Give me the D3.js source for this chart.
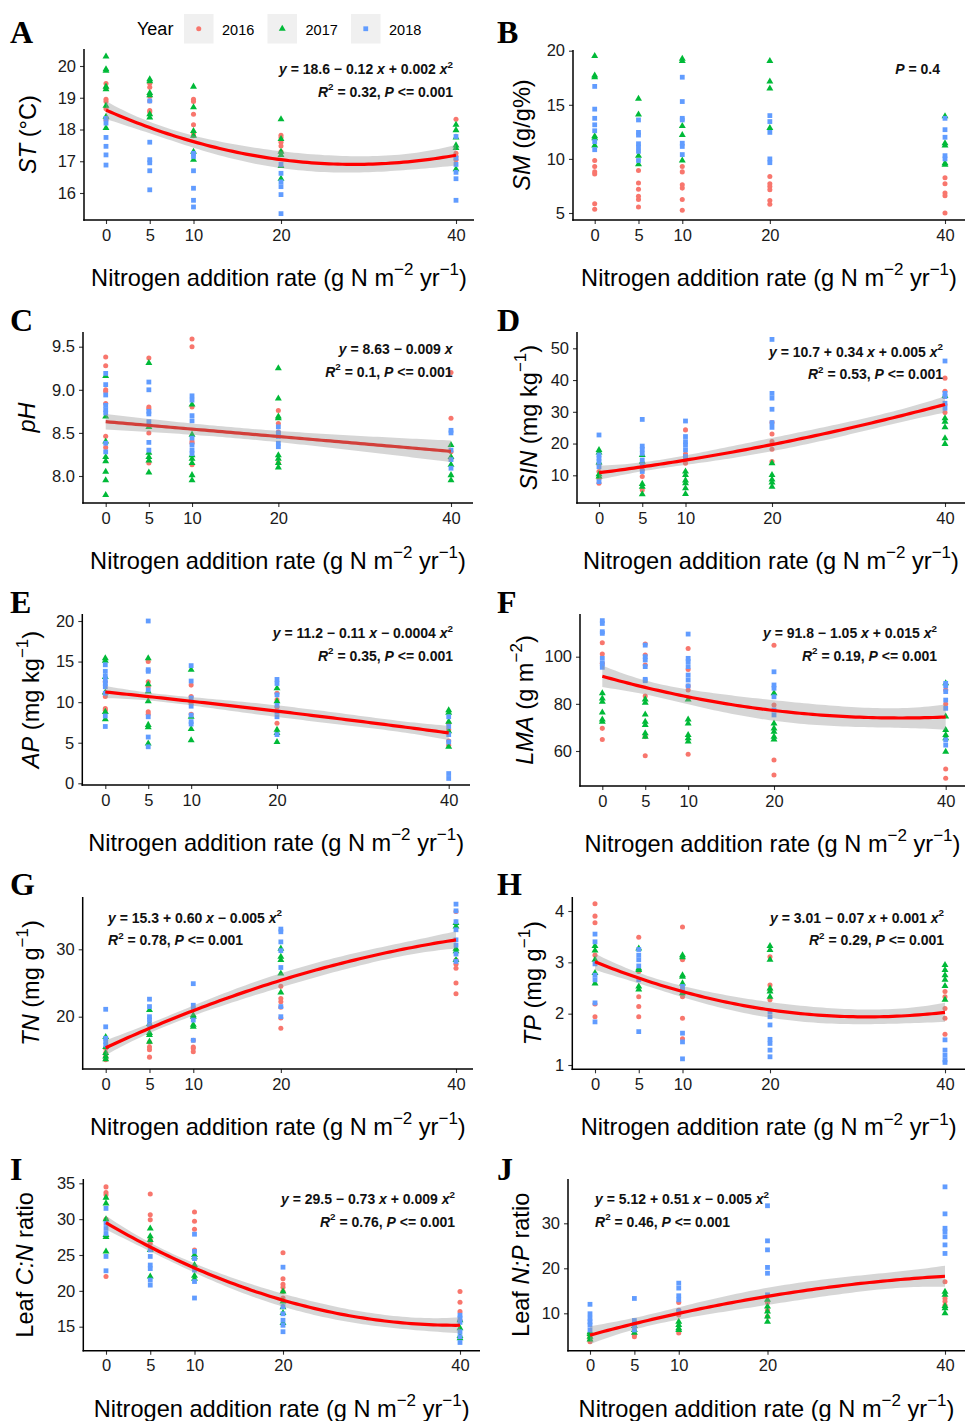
<!DOCTYPE html>
<html><head><meta charset="utf-8">
<script src="https://cdn.jsdelivr.net/npm/d3@7"></script>
<style>body{margin:0;background:#fff} svg{display:block}</style>
</head><body>
<svg id="chart" width="965" height="1421"></svg>
<script>
const nLevels = [0, 5, 10, 20, 40];
const years = ["2016", "2017", "2018"];
const yearColors = ["#F8766D", "#00BA38", "#619CFF"];
const yearShapes = [d3.symbolCircle, d3.symbolTriangle, d3.symbolSquare];

// A: soil temperature
const stY2016 = [[19.45,19.3,18.95,18.88,18.65,18.3],[19.45,19.33,19.05,18.9,18.6,18.55],[18.95,18.88,18.48,18.15,17.9,17.8],[17.82,17.75,17.6,17.48,17.3],[18.32,17.25,17.15,17.05]];
const stY2017 = [[20.3,19.9,19.85,19.35,19.27,18.75,18.4,18.05],[19.58,19.52,19.15,19.08,18.48,18.38],[19.35,18.7,17.95,17.8,17.3,17.05],[18.32,17.7,17.3,17.2,16.85,16.45],[18.15,17.98,17.75,17.5,17.42,16.75]];
const stY2018 = [[18.35,18.2,17.75,17.47,17.2,16.88],[18.9,17.6,17.05,16.95,16.7,16.1],[17.25,17.15,16.7,16.15,15.77,15.56],[16.9,16.62,16.35,16.2,15.95,15.35],[17.78,17.1,16.9,16.65,16.45,15.77]];
// B: soil moisture
const smY2016 = [[9.85,9.3,8.8,8.6,5.85,5.35],[8.93,7.77,7.2,6.55,6.25,5.55],[9.3,8.8,7.6,7.3,6.25,5.25],[8.38,7.7,7.45,7.15,6.15,5.8],[8.25,7.7,6.85,6.6,5.0]];
const smY2017 = [[19.5,17.7,17.55,12.1,11.9,11.25],[15.55,14.1,10.3,9.5],[19.25,19.05,13.05,12.2,9.85],[19.05,17.15,16.5,12.85],[13.95,11.45,11.25,9.6,9.45]];
const smY2018 = [[16.7,14.6,13.75,13.15,12.6,11.6,10.85],[13.6,12.45,12.2,11.4,11.1,10.7,9.85],[17.55,15.3,13.75,13.6,11.45,11.15,10.4],[14.0,13.45,12.45,10.0,9.65],[13.75,12.7,12.0,10.3,10.0]];
// C: pH
const phY2016 = [[9.38,9.28,9.0,8.98,8.84,8.46,8.33],[9.37,8.8,8.78,8.5,8.15],[9.59,9.5,8.8,8.4,8.38,8.13],[8.76,8.61,8.51,8.15],[9.2,8.67,8.28,8.2]];
const phY2017 = [[9.16,8.69,8.4,8.22,8.17,8.05,7.95,7.78],[9.31,8.57,8.27,8.22,8.18,8.04],[8.83,8.48,8.24,8.2,8.15,8.01,7.95],[9.25,8.9,8.69,8.67,8.24,8.2,8.15,8.1],[8.36,8.22,8.13,8.01,7.95]];
const phY2018 = [[9.19,9.06,8.94,8.82,8.77,8.73,8.38,8.28],[9.09,9.0,8.75,8.72,8.63,8.39,8.3],[8.93,8.88,8.7,8.64,8.44,8.36,8.3,8.26],[8.57,8.5,8.46,8.38,8.34],[8.53,8.5,8.3,8.19,8.09]];
// D: soil inorganic N
const sinY2016 = [[13.5,11.2,9.0,7.5],[11.7,9.6,5.4],[24.3,16.7,15.9,13.8],[26.6,23.0,20.6,18.2,14.3],[40.6,36.5,32.2,29.8]];
const sinY2017 = [[18.0,17.2,14.0,10.3,9.6],[16.4,14.3,7.3,6.4,4.0],[11.2,10.1,8.4,7.5,5.9,4.1],[13.8,10.1,8.7,7.7,6.4],[35.0,28.0,26.9,25.1,21.7,19.9]];
const sinY2018 = [[22.7,16.4,15.4,14.3,12.7,8.0],[27.6,19.2,18.2,16.9,14.8,13.3,11.2],[27.1,22.2,20.6,19.5,18.0,15.9],[52.8,35.8,34.3,30.8,26.6,25.1],[46.0,35.8,34.8,32.7,31.1]];
// E: available P
const apY2016 = [[12.5,11.1,10.7,9.2,9.0],[15.0,12.5,11.9,8.8,8.5],[12.1,10.7,9.8,8.5],[11.1,10.3,9.4,7.4],[7.4,6.6,5.2,4.7]];
const apY2017 = [[15.4,15.1,13.1,11.2,8.8,7.9],[15.4,12.2,11.3,10.1,7.2,6.9,4.9],[14.0,10.2,8.2,6.7,5.3],[11.7,10.1,6.6,6.2,5.1],[9.0,8.7,7.6,6.4,4.5]];
const apY2018 = [[14.6,13.8,13.2,12.7,12.3,11.9,11.1,8.3,7.0],[20.0,14.0,13.8,11.5,8.2,5.7,4.5],[14.5,12.6,10.5,9.5,8.4,7.6,7.3],[12.8,12.3,10.9,9.6,8.8,8.2,6.0],[8.2,7.0,6.0,5.1,1.2,0.6]];
// F: leaf mass per area
const lmaY2016 = [[105.9,101.1,97.2,69.6,64.9],[105.4,100.7,96.5,83.3,66.1,58.0],[103.5,94.6,87.6,85.9,58.6],[104.9,79.5,56.2,49.8],[85.9,79.9,52.4,48.4]];
const lmaY2017 = [[84.5,82.3,80.9,76.3,73.4,72.4],[81.9,80.5,75.5,72.4,71.0,67.5,66.1],[81.9,73.4,71.7,66.8,65.4,64.0],[84.5,71.7,69.6,68.2,66.1,64.9],[88.7,74.6,68.9,66.8,65.4,59.7]];
const lmaY2018 = [[115.3,114.1,110.6,109.9,99.3,97.2,95.5],[104.9,100.0,98.6,95.8,90.4,89.8],[109.6,99.3,97.9,95.8,92.2,90.1,87.6],[93.6,88.0,86.6,83.0,77.4,75.3],[88.7,87.6,85.2,81.6,78.1,64.7,62.5]];
// G: leaf total N
const tnY2016 = [[15.3,14.6,14.1,13.6],[16.2,15.5,15.1,14.0],[16.5,15.5,15.3,14.8],[24.5,22.7,22.2,21.4,19.8,18.3],[35.6,28.4,27.8,27.2,25.0,23.4]];
const tnY2017 = [[17.0,15.5,14.6,14.1,13.7],[21.0,18.9,17.6,17.3,16.3],[20.2,20.0,18.8,18.5],[30.1,28.9,28.4,26.4,23.6],[33.9,33.4,30.1,29.7,28.4]];
const tnY2018 = [[21.1,18.5,16.8,16.3,15.8],[22.6,21.5,20.0,19.5,18.8],[24.9,21.7,21.2,19.5,16.5],[33.0,32.6,31.1,29.8,27.3,21.5,20.0],[36.7,35.7,34.1,32.9,31.4,30.6,29.3,28.2]];
// H: leaf total P
const tpY2016 = [[4.14,3.9,3.77,3.14,2.19,1.94],[3.49,2.82,2.33,2.14,1.94],[3.69,3.05,2.33,1.91,1.51],[3.11,2.56,2.46,2.27],[2.43,2.33,2.1,1.91,1.6]];
const tpY2017 = [[3.32,3.23,3.05,2.79,2.59],[3.27,2.88,2.85,2.53,2.47],[3.14,3.1,2.75,2.72,2.59,2.4],[3.32,3.24,3.05,2.49,2.43,2.33],[2.95,2.85,2.75,2.66,2.54,2.27]];
const tpY2018 = [[3.55,3.4,2.97,2.75,2.66,2.21,1.84],[3.25,3.14,3.05,2.93,2.66,1.65],[2.53,2.45,1.62,1.45,1.12],[2.04,1.94,1.78,1.5,1.42,1.29,1.16],[1.49,1.29,1.19,1.1,1.05]];
// I: leaf C:N
const cnY2016 = [[34.5,33.7,33.4,30.0,22.0],[33.5,30.6,29.9,27.1,26.6],[31.0,29.7,28.6,25.7],[25.3,21.7,20.9,20.5,19.9,19.0],[19.9,18.4,17.1,15.9]];
const cnY2017 = [[33.0,32.2,30.0,27.8,27.5,25.5],[28.7,27.6,27.1,25.7,22.0],[25.0,24.7,23.6,22.1,21.7],[19.9,18.5,17.7,16.9,15.5],[15.9,14.8,13.7,13.4]];
const cnY2018 = [[31.5,29.4,28.7,28.0,24.8,22.8],[25.7,24.8,23.6,23.1,21.5,20.8],[27.9,25.5,24.5,22.9,21.3,19.0],[23.3,17.8,16.8,15.9,15.2,14.3],[16.6,16.2,15.6,14.3,13.6,12.8]];
// J: leaf N:P
const npY2016 = [[5.5,4.8,4.2,3.7],[6.0,5.2,4.8],[12.4,10.7,9.6,5.6],[12.4,10.7,9.3],[17.0,13.3,12.6,11.8]];
const npY2017 = [[5.8,5.4,4.8,4.2],[7.2,6.3,5.7],[8.1,7.4,6.7,6.3],[13.0,11.5,10.4,9.3,8.1],[14.8,14.1,11.6,11.1,10.0]];
const npY2018 = [[12.0,9.9,8.9,8.1,7.4,6.3],[13.3,8.4,7.8,7.2,6.3],[16.7,15.6,13.9,13.0,10.5],[33.9,26.1,24.1,20.2,18.9,14.1],[38.1,32.1,28.9,28.1,27.0,25.2,23.3]];

// fitted polynomial coefficients [a, b, c] and CI half-width at x = 0
const fitA = [18.61, -0.1205, 0.002125], bandA = 0.28;
const fitC = [8.63, -0.0086], bandC = 0.09;
const fitD = [10.8, 0.35, 0.0047], bandD = 2.2;
const fitE = [11.25, -0.11, -0.0004], bandE = 0.75;
const fitF = [91.7, -1.02, 0.0147], bandF = 4.6;
const fitG = [15.4, 0.60, -0.005], bandG = 1.1;
const fitH = [3.01, -0.069, 0.00111], bandH = 0.16;
const fitI = [29.5, -0.7225, 0.009125], bandI = 0.95;
const fitJ = [5.15, 0.535, -0.0052], bandJ = 2.0;

// tick values
const ticksA = [16, 17, 18, 19, 20];
const ticksB = [5, 10, 15, 20];
const ticksC = [8.0, 8.5, 9.0, 9.5];
const ticksD = [10, 20, 30, 40, 50];
const ticksE = [0, 5, 10, 15, 20];
const ticksF = [60, 80, 100];
const ticksG = [20, 30];
const ticksH = [1, 2, 3, 4];
const ticksI = [15, 20, 25, 30, 35];
const ticksJ = [10, 20, 30];

// text
const eqA = [[["y","i"],[" = 18.6 − 0.12 ",""],["x","i"],[" + 0.002 ",""],["x","i"],["2","s"]],[["R","i"],["2","s"],[" = 0.32, ",""],["P","i"],[" <= 0.001",""]]];
const eqB = [[["P","i"],[" = 0.4",""]]];
const eqC = [[["y","i"],[" = 8.63 − 0.009 ",""],["x","i"]],[["R","i"],["2","s"],[" = 0.1, ",""],["P","i"],[" <= 0.001",""]]];
const eqD = [[["y","i"],[" = 10.7 + 0.34 ",""],["x","i"],[" + 0.005 ",""],["x","i"],["2","s"]],[["R","i"],["2","s"],[" = 0.53, ",""],["P","i"],[" <= 0.001",""]]];
const eqE = [[["y","i"],[" = 11.2 − 0.11 ",""],["x","i"],[" − 0.0004 ",""],["x","i"],["2","s"]],[["R","i"],["2","s"],[" = 0.35, ",""],["P","i"],[" <= 0.001",""]]];
const eqF = [[["y","i"],[" = 91.8 − 1.05 ",""],["x","i"],[" + 0.015 ",""],["x","i"],["2","s"]],[["R","i"],["2","s"],[" = 0.19, ",""],["P","i"],[" <= 0.001",""]]];
const eqG = [[["y","i"],[" = 15.3 + 0.60 ",""],["x","i"],[" − 0.005 ",""],["x","i"],["2","s"]],[["R","i"],["2","s"],[" = 0.78, ",""],["P","i"],[" <= 0.001",""]]];
const eqH = [[["y","i"],[" = 3.01 − 0.07 ",""],["x","i"],[" + 0.001 ",""],["x","i"],["2","s"]],[["R","i"],["2","s"],[" = 0.29, ",""],["P","i"],[" <= 0.001",""]]];
const eqI = [[["y","i"],[" = 29.5 − 0.73 ",""],["x","i"],[" + 0.009 ",""],["x","i"],["2","s"]],[["R","i"],["2","s"],[" = 0.76, ",""],["P","i"],[" <= 0.001",""]]];
const eqJ = [[["y","i"],[" = 5.12 + 0.51 ",""],["x","i"],[" − 0.005 ",""],["x","i"],["2","s"]],[["R","i"],["2","s"],[" = 0.46, ",""],["P","i"],[" <= 0.001",""]]];

const ytA = [["ST","i"],[" (°C)",""]];
const ytB = [["SM","i"],[" (g/g%)",""]];
const ytC = [["pH","i"]];
const ytD = [["SIN","i"],[" (mg kg",""],["−1","s"],[")",""]];
const ytE = [["AP","i"],[" (mg kg",""],["−1","s"],[")",""]];
const ytF = [["LMA","i"],[" (g m",""],["−2","s"],[")",""]];
const ytG = [["TN","i"],[" (mg g",""],["−1","s"],[")",""]];
const ytH = [["TP","i"],[" (mg g",""],["−1","s"],[")",""]];
const ytI = [["Leaf ",""],["C:N","i"],[" ratio",""]];
const ytJ = [["Leaf ",""],["N:P","i"],[" ratio",""]];
const xTitle = [["Nitrogen addition rate (g N m",""],["−2","s"],[" yr",""],["−1","s"],[")",""]];

const SANS = "'Liberation Sans', Arial, Helvetica, sans-serif";
const SERIF = "'Liberation Serif', 'Times New Roman', serif";

// layout (pixels)
const panels = [
 {id:"A", data:[stY2016,stY2017,stY2018], fit:fitA, band:bandA, ticks:ticksA, fmt:d3.format("d"), eq:eqA, yt:ytA,
  L:84, T:49, B:220, R:474, x0:106, x40:456, yr:[16,20], ypx:[193,66], eqX:453, eqY:74, eqAnchor:"end", ytX:30, lab:[10,43]},
 {id:"B", data:[smY2016,smY2017,smY2018], fit:null, ticks:ticksB, fmt:d3.format("d"), eq:eqB, yt:ytB,
  L:573, T:50, B:220, R:965, x0:594.7, x40:945, yr:[5,20], ypx:[213,50.7], eqX:940, eqY:74, eqAnchor:"end", ytX:524, lab:[497,43]},
 {id:"C", data:[phY2016,phY2017,phY2018], fit:fitC, band:bandC, ticks:ticksC, fmt:d3.format(".1f"), eq:eqC, yt:ytC, lineColor:"#D23F3A",
  L:83, T:332, B:503, R:473, x0:105.7, x40:451, yr:[8,9.5], ypx:[476,346.7], eqX:452.5, eqY:354, eqAnchor:"end", ytX:29, lab:[10,331]},
 {id:"D", data:[sinY2016,sinY2017,sinY2018], fit:fitD, band:bandD, ticks:ticksD, fmt:d3.format("d"), eq:eqD, yt:ytD,
  L:577, T:332, B:503, R:965, x0:599, x40:945, yr:[10,50], ypx:[475.3,348.3], eqX:943, eqY:356.5, eqAnchor:"end", ytX:531, lab:[497,331]},
 {id:"E", data:[apY2016,apY2017,apY2018], fit:fitE, band:bandE, ticks:ticksE, fmt:d3.format("d"), eq:eqE, yt:ytE,
  L:82.3, T:614, B:785, R:470, x0:105.3, x40:448.7, yr:[0,20], ypx:[783.3,621], eqX:453, eqY:638, eqAnchor:"end", ytX:33, lab:[10,613]},
 {id:"F", data:[lmaY2016,lmaY2017,lmaY2018], fit:fitF, band:bandF, ticks:ticksF, fmt:d3.format("d"), eq:eqF, yt:ytF,
  L:580, T:614, B:786, R:965, x0:602.3, x40:945.7, yr:[60,100], ypx:[751,656.7], eqX:937, eqY:638, eqAnchor:"end", ytX:527, lab:[497,613]},
 {id:"G", data:[tnY2016,tnY2017,tnY2018], fit:fitG, band:bandG, ticks:ticksG, fmt:d3.format("d"), eq:eqG, yt:ytG,
  L:82.7, T:897, B:1069, R:473, x0:105.7, x40:456, yr:[20,30], ypx:[1016.7,949.3], eqX:108, eqY:922.5, eqAnchor:"start", ytX:33, lab:[10,895]},
 {id:"H", data:[tpY2016,tpY2017,tpY2018], fit:fitH, band:bandH, ticks:ticksH, fmt:d3.format("d"), eq:eqH, yt:ytH,
  L:572.3, T:897, B:1069.3, R:965, x0:595, x40:945, yr:[1,4], ypx:[1065,911], eqX:944, eqY:922.5, eqAnchor:"end", ytX:535, lab:[497,895]},
 {id:"I", data:[cnY2016,cnY2017,cnY2018], fit:fitI, band:bandI, ticks:ticksI, fmt:d3.format("d"), eq:eqI, yt:ytI,
  L:83.3, T:1179, B:1350.7, R:480, x0:106, x40:460, yr:[15,35], ypx:[1326.7,1183.3], eqX:455, eqY:1204, eqAnchor:"end", ytX:27, lab:[10,1180]},
 {id:"J", data:[npY2016,npY2017,npY2018], fit:fitJ, band:bandJ, ticks:ticksJ, fmt:d3.format("d"), eq:eqJ, yt:ytJ,
  L:568, T:1179, B:1350.7, R:965, x0:590, x40:945, yr:[10,30], ypx:[1313.3,1223.3], eqX:595, eqY:1204, eqAnchor:"start", ytX:523, lab:[497,1180]}
];

const svg = d3.select("#chart");

function richText(sel, segs, size, opts) {
  opts = opts || {};
  const supSize = size * (opts.supScale || 0.72);
  const rise = size * (opts.rise || 0.42);
  let shifted = false;
  segs.forEach(([t, st]) => {
    const ts = sel.append("tspan").text(t);
    if (st === "i") ts.attr("font-style", "italic");
    if (st === "s") {
      ts.attr("font-size", supSize).attr("dy", -rise);
      shifted = true;
    } else {
      ts.attr("font-size", size);
      if (shifted) { ts.attr("dy", rise); shifted = false; }
    }
  });
}

function invert(M) {
  const n = M.length;
  const A = M.map((r, i) => r.concat(Array.from({length:n}, (_, j) => i === j ? 1 : 0)));
  for (let c = 0; c < n; c++) {
    let p = c;
    for (let r = c + 1; r < n; r++) if (Math.abs(A[r][c]) > Math.abs(A[p][c])) p = r;
    [A[c], A[p]] = [A[p], A[c]];
    const d = A[c][c];
    for (let j = 0; j < 2 * n; j++) A[c][j] /= d;
    for (let r = 0; r < n; r++) if (r !== c) {
      const f = A[r][c];
      for (let j = 0; j < 2 * n; j++) A[r][j] -= f * A[c][j];
    }
  }
  return A.map(r => r.slice(n));
}

function leverage(k) {
  const M = Array.from({length:k}, () => Array(k).fill(0));
  nLevels.forEach(x => {
    const v = [1, x, x * x].slice(0, k);
    for (let i = 0; i < k; i++) for (let j = 0; j < k; j++) M[i][j] += v[i] * v[j];
  });
  const Mi = invert(M);
  return x => {
    const v = [1, x, x * x].slice(0, k);
    let s = 0;
    for (let i = 0; i < k; i++) for (let j = 0; j < k; j++) s += v[i] * Mi[i][j] * v[j];
    return s;
  };
}

const TICK_FONT = 16.5, TITLE_FONT = 23.6, EQ_FONT = 14;

panels.forEach(p => {
  const g = svg.append("g");
  const x = d3.scaleLinear().domain([0, 40]).range([p.x0, p.x40]);
  const y = d3.scaleLinear().domain(p.yr).range(p.ypx);

  // points
  p.data.forEach((series, yi) => {
    const pts = [];
    series.forEach((vals, li) => vals.forEach(v => pts.push([nLevels[li], v])));
    const sym = d3.symbol().type(yearShapes[yi]).size(yi === 0 ? 20 : yi === 1 ? 21 : 23);
    g.append("g").selectAll("path").data(pts).join("path")
      .attr("d", sym)
      .attr("transform", d => `translate(${x(d[0])},${y(d[1])})`)
      .attr("fill", yearColors[yi]);
  });

  // smooth + CI band
  if (p.fit) {
    const k = p.fit.length;
    const lev = leverage(k);
    const h0 = lev(0);
    const f = xx => p.fit.reduce((s, c, i) => s + c * Math.pow(xx, i), 0);
    const xs = d3.range(0, 40.001, 0.5);
    const bandData = xs.map(xx => {
      const hw = p.band * Math.sqrt(lev(xx) / h0);
      return {x: xx, y: f(xx), lo: f(xx) - hw, hi: f(xx) + hw};
    });
    g.append("path").datum(bandData)
      .attr("d", d3.area().x(d => x(d.x)).y0(d => y(d.lo)).y1(d => y(d.hi)))
      .attr("fill", "#999999").attr("fill-opacity", 0.4);
    g.append("path").datum(bandData)
      .attr("d", d3.line().x(d => x(d.x)).y(d => y(d.y)))
      .attr("fill", "none").attr("stroke", p.lineColor || "#FF0000").attr("stroke-width", 3.2);
  }

  // axes
  const xAxis = d3.axisBottom(x).tickValues(nLevels).tickSize(4).tickPadding(5).tickFormat(d3.format("d"));
  const xa = g.append("g").attr("transform", `translate(0,${p.B})`).call(xAxis);
  const yAxis = d3.axisLeft(y).tickValues(p.ticks).tickSize(4).tickPadding(4).tickFormat(p.fmt);
  const ya = g.append("g").attr("transform", `translate(${p.L},0)`).call(yAxis);
  [xa, ya].forEach(a => {
    a.select(".domain").remove();
    a.selectAll(".tick line").attr("stroke", "#333").attr("stroke-width", 1.1);
    a.selectAll(".tick text").attr("fill", "#1a1a1a").attr("font-size", TICK_FONT).attr("font-family", SANS);
  });
  g.append("line").attr("x1", p.L).attr("x2", p.L).attr("y1", p.T).attr("y2", p.B + 0.75)
    .attr("stroke", "#000").attr("stroke-width", 1.5);
  g.append("line").attr("x1", p.L - 0.75).attr("x2", p.R).attr("y1", p.B).attr("y2", p.B)
    .attr("stroke", "#000").attr("stroke-width", 1.5);

  // equations
  p.eq.forEach((line, li) => {
    const t = g.append("text").attr("x", p.eqX).attr("y", p.eqY + li * 22.5)
      .attr("text-anchor", p.eqAnchor).attr("font-family", SANS).attr("font-weight", "bold").attr("fill", "#111");
    richText(t, line, EQ_FONT, {supScale: 0.7, rise: 0.45});
  });

  // y title
  const yc = (p.T + p.B) / 2;
  const yt = g.append("text").attr("transform", `translate(${p.ytX},${yc}) rotate(-90)`)
    .attr("text-anchor", "middle").attr("dy", "0.36em").attr("font-family", SANS).attr("fill", "#000");
  richText(yt, p.yt, TITLE_FONT, {supScale: 0.72, rise: 0.45});

  // x title
  const xt = g.append("text").attr("x", (p.L + p.R) / 2).attr("y", p.B + 66)
    .attr("text-anchor", "middle").attr("font-family", SANS).attr("fill", "#000");
  richText(xt, xTitle, TITLE_FONT, {supScale: 0.72, rise: 0.45});

  // panel label
  g.append("text").attr("x", p.lab[0]).attr("y", p.lab[1]).text(p.id)
    .attr("font-family", SERIF).attr("font-weight", "bold").attr("font-size", 32).attr("fill", "#000");
});

// legend
const leg = svg.append("g");
leg.append("text").attr("x", 137).attr("y", 35).text("Year")
  .attr("font-family", SANS).attr("font-size", 18).attr("fill", "#000");
const keyX = [184, 267.5, 351];
years.forEach((yrs, i) => {
  leg.append("rect").attr("x", keyX[i]).attr("y", 14).attr("width", 29.5).attr("height", 29.5).attr("fill", "#f0f0f0");
  leg.append("path").attr("d", d3.symbol().type(yearShapes[i]).size(i === 0 ? 20 : i === 1 ? 21 : 23))
    .attr("transform", `translate(${keyX[i] + 14.75},${28.75})`).attr("fill", yearColors[i]);
  leg.append("text").attr("x", keyX[i] + 38).attr("y", 34.5).text(yrs)
    .attr("font-family", SANS).attr("font-size", 14.5).attr("fill", "#000");
});
</script>
</body></html>
